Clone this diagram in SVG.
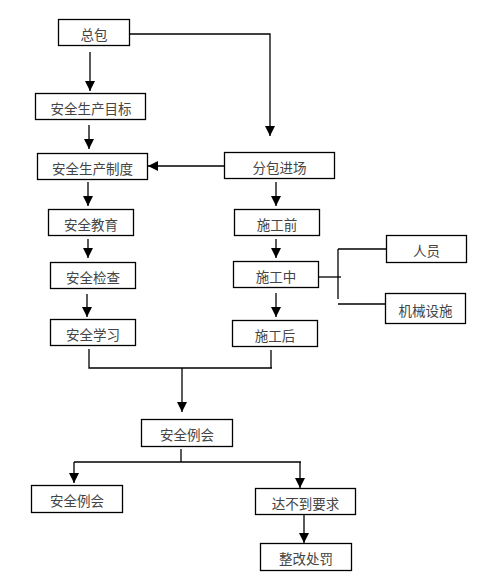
<svg xmlns="http://www.w3.org/2000/svg" width="498" height="582" viewBox="0 0 498 582">
<style>
.box{fill:#fff;stroke:#000;stroke-width:1.3}
.t{font-family:"Noto Sans CJK SC","Liberation Sans",sans-serif;font-size:13.5px;fill:#444;text-anchor:middle}
.c{fill:none;stroke:#000;stroke-width:1.3}
</style>
<defs>
<marker id="ah" viewBox="0 0 10 10" refX="10" refY="5" markerWidth="10" markerHeight="10" markerUnits="userSpaceOnUse" orient="auto">
<path d="M0,0 L10,5 L0,10 z" fill="#000"/>
</marker>
</defs>
<rect width="498" height="582" fill="#fff"/>
<g id="connectors">
<path class="c" d="M90,52 V91" marker-end="url(#ah)"/>
<path class="c" d="M129,34 H270 V136" marker-end="url(#ah)"/>
<path class="c" d="M89,125 V149" marker-end="url(#ah)"/>
<path class="c" d="M224,166 H148" marker-end="url(#ah)"/>
<path class="c" d="M88,182 V206" marker-end="url(#ah)"/>
<path class="c" d="M88,239 V258" marker-end="url(#ah)"/>
<path class="c" d="M87,294 V317" marker-end="url(#ah)"/>
<path class="c" d="M89,349 V368 H272"/>
<path class="c" d="M271,350 V368"/>
<path class="c" d="M182,368 V412" marker-end="url(#ah)"/>
<path class="c" d="M276,182 V206" marker-end="url(#ah)"/>
<path class="c" d="M276,239 V258" marker-end="url(#ah)"/>
<path class="c" d="M276,293 V317" marker-end="url(#ah)"/>
<path class="c" d="M318,277 H341"/>
<path class="c" d="M338,249 V299"/>
<path class="c" d="M338,249 H386"/>
<path class="c" d="M338,304 H385"/>
<path class="c" d="M181,449 V462"/>
<path class="c" d="M74,462 H301"/>
<path class="c" d="M74,462 V483" marker-end="url(#ah)"/>
<path class="c" d="M300,462 V488" marker-end="url(#ah)"/>
<path class="c" d="M304,514 V543" marker-end="url(#ah)"/>
</g>
<g id="n1"><rect class="box" x="58.5" y="19.5" width="71" height="26"/><text class="t" x="94" y="40">总包</text></g>
<g id="n2"><rect class="box" x="35.5" y="93.5" width="110" height="26"/><text class="t" x="91" y="114">安全生产目标</text></g>
<g id="n3"><rect class="box" x="37.5" y="153.5" width="110" height="26"/><text class="t" x="92.5" y="174">安全生产制度</text></g>
<g id="n4"><rect class="box" x="224.5" y="152.5" width="110" height="26"/><text class="t" x="279.5" y="173">分包进场</text></g>
<g id="n5"><rect class="box" x="48.5" y="209.5" width="85" height="26"/><text class="t" x="91" y="230">安全教育</text></g>
<g id="n6"><rect class="box" x="50.5" y="262.5" width="85" height="26"/><text class="t" x="93" y="283">安全检查</text></g>
<g id="n7"><rect class="box" x="50.5" y="319.5" width="85" height="26"/><text class="t" x="93" y="340">安全学习</text></g>
<g id="n8"><rect class="box" x="234.5" y="209.5" width="85" height="26"/><text class="t" x="277" y="230">施工前</text></g>
<g id="n9"><rect class="box" x="233.5" y="261.5" width="85" height="26"/><text class="t" x="276" y="282">施工中</text></g>
<g id="n10"><rect class="box" x="232.5" y="320.5" width="85" height="26"/><text class="t" x="275" y="341">施工后</text></g>
<g id="n11"><rect class="box" x="386.5" y="235.5" width="80" height="27"/><text class="t" x="426.5" y="256">人员</text></g>
<g id="n12"><rect class="box" x="385.5" y="293.5" width="80" height="30"/><text class="t" x="425.5" y="316">机械设施</text></g>
<g id="n13"><rect class="box" x="141.5" y="419.5" width="91" height="27"/><text class="t" x="187" y="440">安全例会</text></g>
<g id="n14"><rect class="box" x="31.5" y="485.5" width="91" height="27"/><text class="t" x="77" y="506">安全例会</text></g>
<g id="n15"><rect class="box" x="255.5" y="488.5" width="100" height="26"/><text class="t" x="305.5" y="509">达不到要求</text></g>
<g id="n16"><rect class="box" x="260.5" y="543.5" width="91" height="27"/><text class="t" x="306" y="564">整改处罚</text></g>
</svg>
